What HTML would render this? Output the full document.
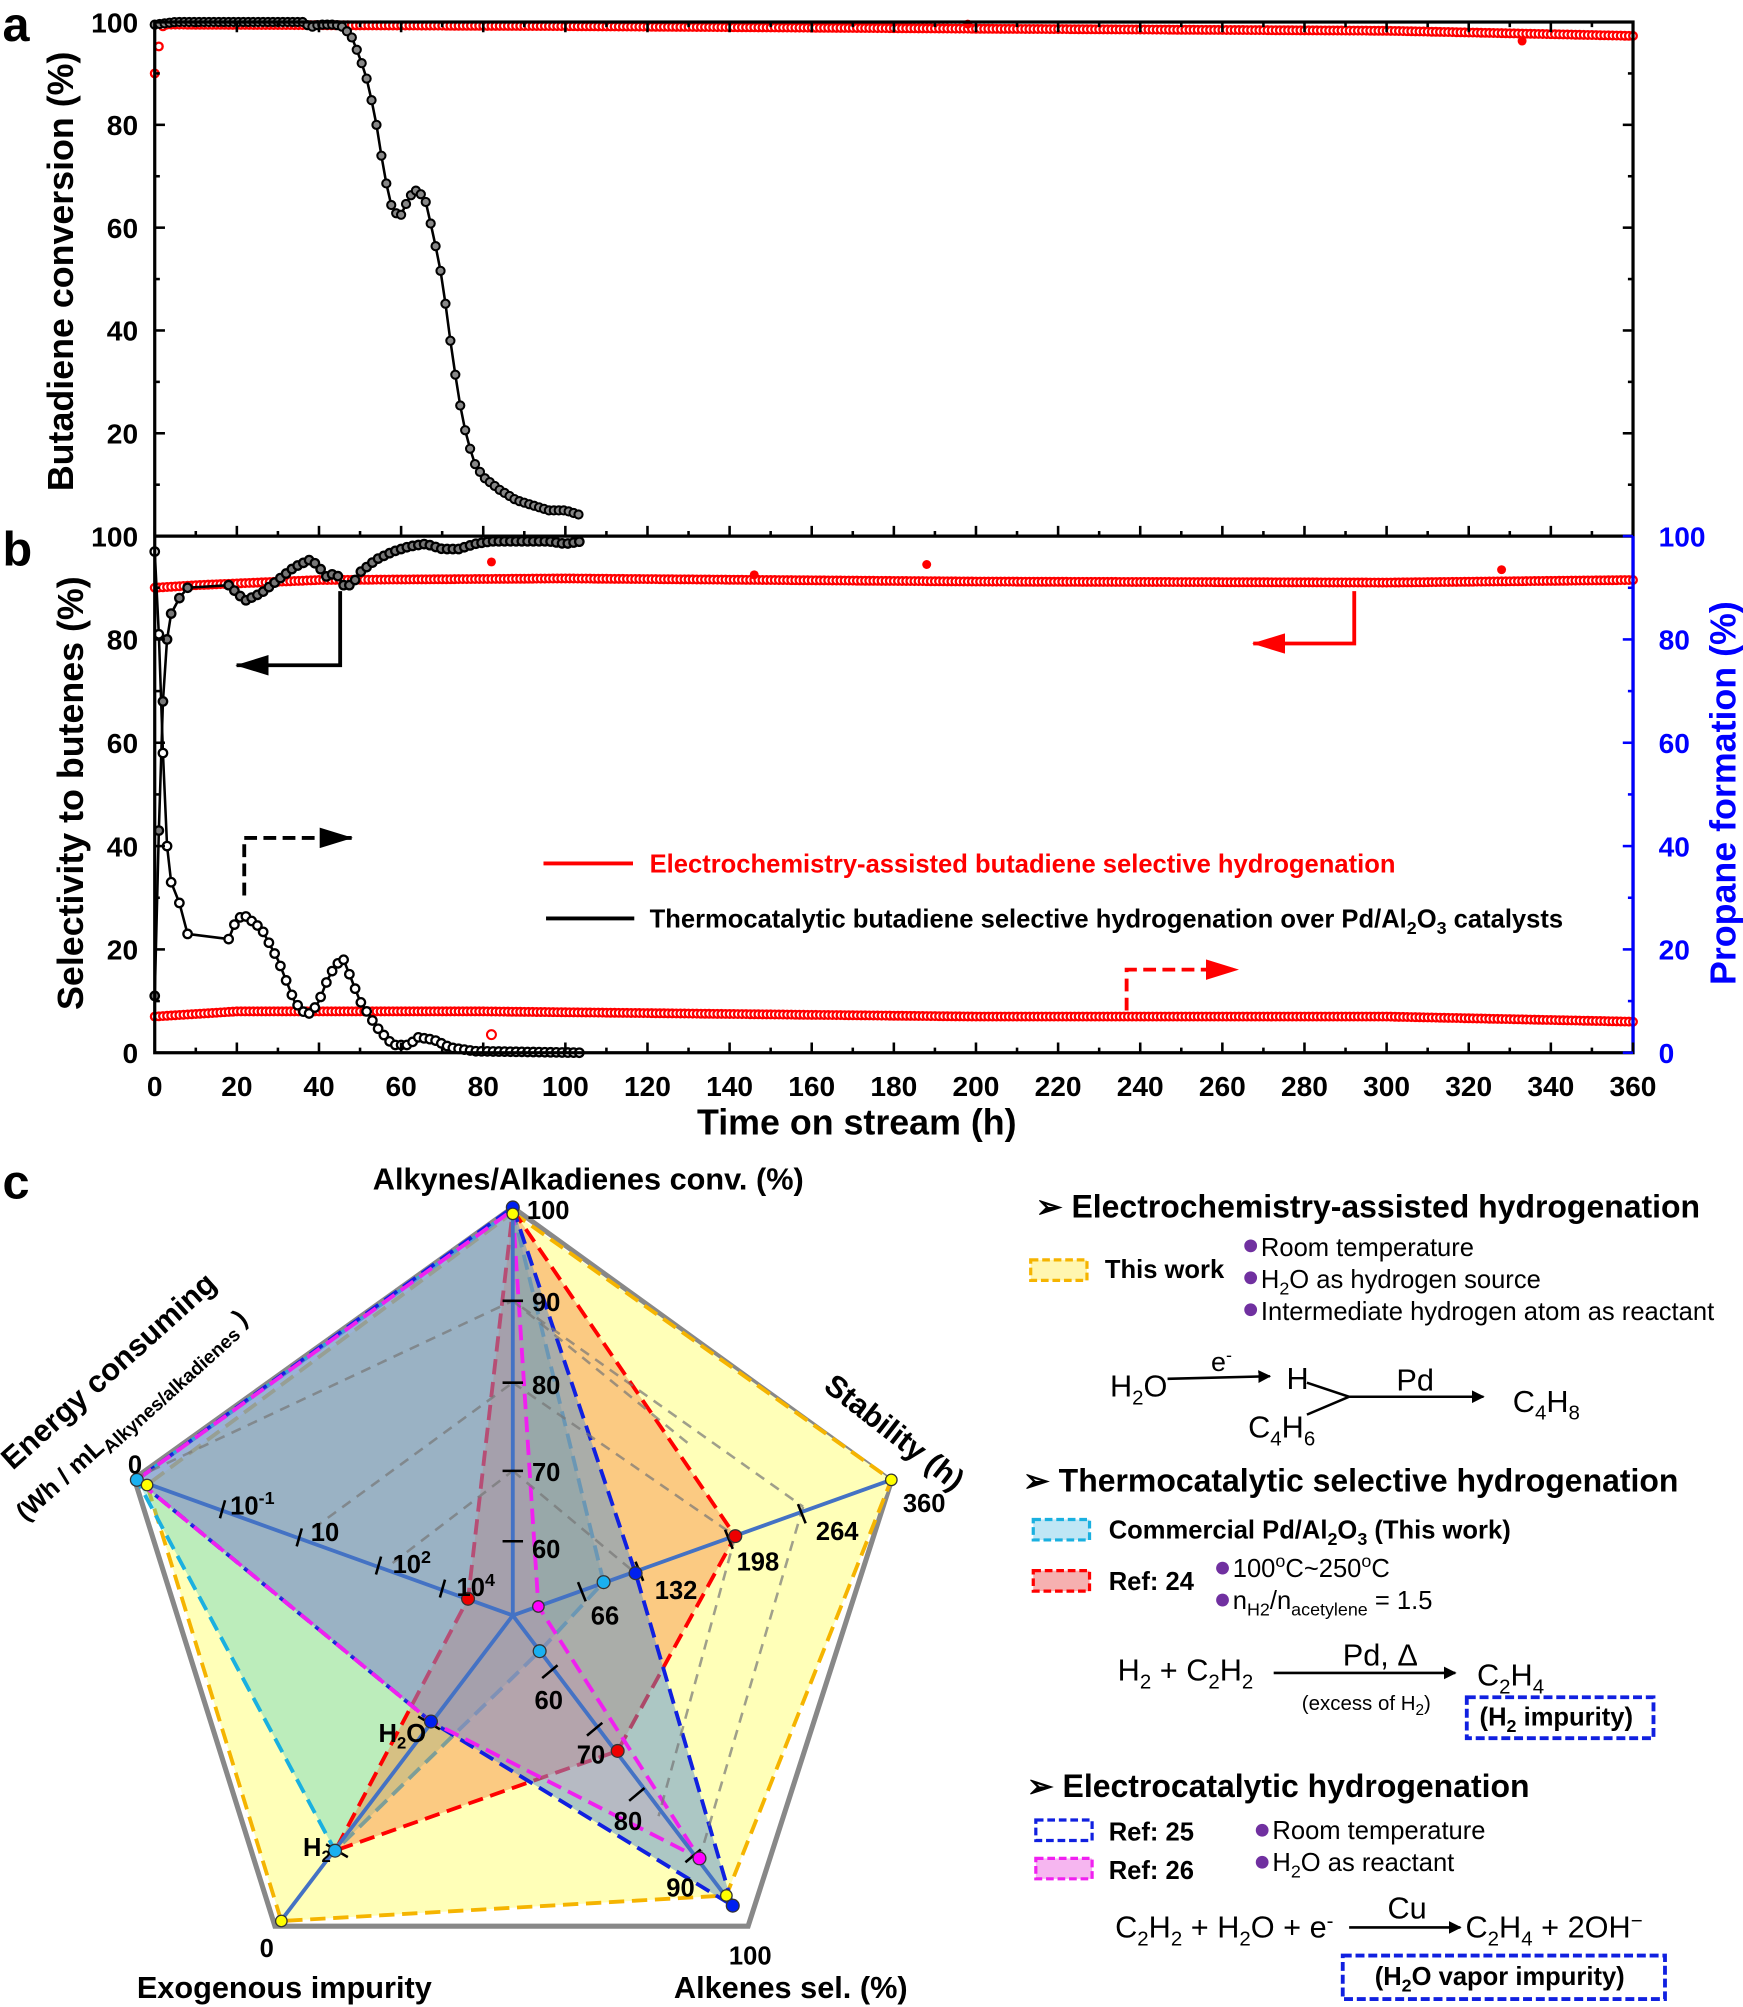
<!DOCTYPE html>
<html><head><meta charset="utf-8"><style>
html,body{margin:0;padding:0;background:#fff}
svg{display:block}
text{font-family:"Liberation Sans",Arial,sans-serif}
.b{font-weight:bold}
</style></head><body>
<svg id="s" width="1743" height="2007" viewBox="0 0 1363 1569" xmlns="http://www.w3.org/2000/svg">
<defs>
<marker id="ah" markerWidth="10" markerHeight="10" refX="9" refY="5" orient="auto" markerUnits="userSpaceOnUse"><path d="M0,0 L10,5 L0,10 Z" fill="#000"/></marker>
<marker id="ahk" markerWidth="26" markerHeight="16" refX="25" refY="8" orient="auto" markerUnits="userSpaceOnUse"><path d="M0,0 L26,8 L0,16 Z" fill="#000"/></marker>
<marker id="ahr" markerWidth="26" markerHeight="16" refX="25" refY="8" orient="auto" markerUnits="userSpaceOnUse"><path d="M0,0 L26,8 L0,16 Z" fill="#f00"/></marker>
</defs>
<g id="plots"></g>
<rect x="121" y="17" width="1156" height="806" fill="none" stroke="#000" stroke-width="2.5"/>
<line x1="121" y1="419" x2="1277" y2="419" stroke="#000" stroke-width="2.5"/>
<line x1="1277" y1="419" x2="1277" y2="823" stroke="#00f" stroke-width="2.5"/>
<g id="ticks"></g>
<text x="2" y="32" font-size="38" class="b">a</text>
<text x="2" y="442" font-size="38" class="b">b</text>
<text x="2" y="937" font-size="38" class="b">c</text>
<text transform="translate(57,212) rotate(-90)" text-anchor="middle" font-size="28" class="b">Butadiene conversion (%)</text>
<text transform="translate(65,620) rotate(-90)" text-anchor="middle" font-size="28" class="b">Selectivity to butenes (%)</text>
<text transform="translate(1357,620) rotate(-90)" text-anchor="middle" font-size="28" class="b" fill="#00f">Propane formation (%)</text>
<text x="670" y="887" text-anchor="middle" font-size="28" class="b">Time on stream (h)</text>
<polyline points="266,462 266,520 185,520" fill="none" stroke="#000" stroke-width="3" marker-end="url(#ahk)"/>
<polyline points="191,700 191,655 275,655" fill="none" stroke="#000" stroke-width="3" stroke-dasharray="10,5" marker-end="url(#ahk)"/>
<polyline points="1059,462 1059,503 980,503" fill="none" stroke="#f00" stroke-width="3" marker-end="url(#ahr)"/>
<polyline points="881,790 881,758 968,758" fill="none" stroke="#f00" stroke-width="3" stroke-dasharray="10,5" marker-end="url(#ahr)"/>
<line x1="425" y1="675" x2="495" y2="675" stroke="#f00" stroke-width="3"/>
<line x1="427" y1="718" x2="496" y2="718" stroke="#000" stroke-width="3"/>
<text x="508" y="682" font-size="20" class="b" fill="#f00">Electrochemistry-assisted butadiene selective hydrogenation</text>
<text x="508" y="725" font-size="20" class="b">Thermocatalytic butadiene selective hydrogenation over Pd/Al<tspan font-size="14" dy="5">2</tspan><tspan dy="-5">O</tspan><tspan font-size="14" dy="5">3</tspan><tspan dy="-5"> catalysts</tspan></text>

<g id="radar">
<polygon points="401,944 697,1158 585,1506 215,1506 105,1156" fill="none" stroke="#888" stroke-width="4"/>
<polygon points="401,948 697,1157 568,1482 220,1502 115,1161" fill="#ffffb8" stroke="#f5b400" stroke-width="3" stroke-dasharray="12,6"/>
<polygon points="401,946 472,1237 422,1291 262,1447 107,1157" fill="#50d0c0" fill-opacity="0.38" stroke="#1ab0e0" stroke-width="3" stroke-dasharray="12,6"/>
<polygon points="401,946 575,1201 483,1369 262,1447 366,1250" fill="#f78a40" fill-opacity="0.45" stroke="#f00" stroke-width="3" stroke-dasharray="12,6"/>
<polygon points="401,944 497,1230 573,1490 337,1346 107,1157" fill="#5a90d0" fill-opacity="0.5" stroke="#1020e0" stroke-width="3" stroke-dasharray="12,6"/>
<polygon points="401,946 421,1256 547,1453 337,1346 107,1157" fill="#f070c0" fill-opacity="0.15" stroke="#f020f0" stroke-width="3" stroke-dasharray="12,6"/>
<g stroke="#777" stroke-width="2" stroke-dasharray="8,6" fill="none" opacity="0.7">
<polyline points="105,1156 401,1017 628,1178"/>
<polyline points="401,1081 575,1201"/>
<polyline points="401,1150 497,1230"/>
<polyline points="628,1178 547,1453"/>
<polyline points="575,1201 515,1420"/>
<polyline points="401,1017 540,1130"/>
<polyline points="307,1222 401,1150"/>
<polyline points="245,1195 401,1081"/>
</g>
<g stroke="#4472c4" stroke-width="3">
<line x1="401" y1="1263" x2="401" y2="944"/>
<line x1="401" y1="1263" x2="697" y2="1157"/>
<line x1="401" y1="1263" x2="573" y2="1490"/>
<line x1="401" y1="1263" x2="218" y2="1504"/>
<line x1="401" y1="1263" x2="107" y2="1157"/>
</g>
<g stroke="#000" stroke-width="2">
<line x1="393" y1="1017" x2="409" y2="1017"/><line x1="393" y1="1081" x2="409" y2="1081"/><line x1="393" y1="1150" x2="409" y2="1150"/><line x1="393" y1="1205" x2="409" y2="1205"/>
<line x1="172" y1="1187" x2="176" y2="1173"/><line x1="232" y1="1209" x2="236" y2="1195"/><line x1="294" y1="1231" x2="298" y2="1217"/><line x1="344" y1="1249" x2="348" y2="1235"/>
<line x1="452" y1="1237" x2="458" y2="1252"/><line x1="497" y1="1221" x2="503" y2="1236"/><line x1="567" y1="1196" x2="573" y2="1211"/><line x1="624" y1="1176" x2="630" y2="1191"/>
<line x1="424" y1="1312" x2="436" y2="1302"/><line x1="459" y1="1357" x2="471" y2="1347"/><line x1="492" y1="1408" x2="504" y2="1398"/><line x1="536" y1="1456" x2="548" y2="1446"/>
<line x1="255" y1="1442" x2="272" y2="1452"/><line x1="327" y1="1342" x2="344" y2="1352"/>
</g>
<g stroke="#333" stroke-width="1">
<circle cx="401" cy="944" r="5" fill="#0020f0"/><circle cx="401" cy="949" r="4.5" fill="#ff0"/>
<circle cx="697" cy="1157" r="4.5" fill="#ff0"/><circle cx="575" cy="1201" r="5" fill="#e00"/><circle cx="497" cy="1230" r="5" fill="#0020f0"/><circle cx="472" cy="1237" r="5" fill="#1ab0f0"/><circle cx="421" cy="1256" r="4.5" fill="#f0f"/>
<circle cx="422" cy="1291" r="5" fill="#1ab0f0"/><circle cx="483" cy="1369" r="5" fill="#e00"/><circle cx="547" cy="1453" r="5" fill="#f0f"/><circle cx="568" cy="1482" r="4.5" fill="#ff0"/><circle cx="573" cy="1490" r="5" fill="#0020f0"/>
<circle cx="220" cy="1502" r="4.5" fill="#ff0"/><circle cx="262" cy="1447" r="5" fill="#1ab0f0"/><circle cx="337" cy="1346" r="5" fill="#0020f0"/>
<circle cx="107" cy="1157" r="5" fill="#1ab0f0"/><circle cx="115" cy="1161" r="4.5" fill="#ff0"/><circle cx="366" cy="1250" r="5" fill="#e00"/>
</g>
<g font-size="20" class="b">
<text x="412" y="953">100</text>
<text x="416" y="1025">90</text><text x="416" y="1090">80</text><text x="416" y="1158">70</text><text x="416" y="1218">60</text>
<text x="180" y="1184">10<tspan font-size="14" dy="-8">-1</tspan></text>
<text x="243" y="1205">10</text>
<text x="307" y="1230">10<tspan font-size="14" dy="-8">2</tspan></text>
<text x="357" y="1248">10<tspan font-size="14" dy="-8">4</tspan></text>
<text x="462" y="1270">66</text><text x="512" y="1250">132</text><text x="576" y="1228">198</text><text x="638" y="1204">264</text><text x="706" y="1182">360</text>
<text x="418" y="1336">60</text><text x="451" y="1379">70</text><text x="480" y="1431">80</text><text x="521" y="1483">90</text><text x="570" y="1536">100</text>
<text x="203" y="1530">0</text><text x="100" y="1152">0</text>
<text x="237" y="1451">H<tspan font-size="13" dy="5">2</tspan></text>
<text x="296" y="1362">H<tspan font-size="13" dy="5">2</tspan><tspan dy="-5">O</tspan></text>
</g>
<g font-size="24" class="b">
<text x="460" y="930" text-anchor="middle">Alkynes/Alkadienes conv. (%)</text>
<text x="107" y="1562">Exogenous impurity</text>
<text x="527" y="1562">Alkenes sel. (%)</text>
<text transform="translate(643,1086) rotate(38)">Stability (h)</text>
<text transform="translate(10,1150) rotate(-42)">Energy consuming</text>
<text transform="translate(20,1190) rotate(-42)" font-size="20">(Wh / mL<tspan font-size="15" dy="5">Alkynes/alkadienes</tspan><tspan dy="-5"> )</tspan></text>
</g>
</g>

<g font-size="20">
<text x="810" y="952" font-size="25" class="b">➢ Electrochemistry-assisted hydrogenation</text>
<rect x="806" y="985" width="44" height="16" fill="#fff6b0" stroke="#f5b400" stroke-width="2.5" stroke-dasharray="6,3"/>
<text x="864" y="999" class="b">This work</text>
<circle cx="978" cy="974" r="5" fill="#7030a0"/><text x="986" y="982">Room temperature</text>
<circle cx="978" cy="999" r="5" fill="#7030a0"/><text x="986" y="1007">H<tspan font-size="14" dy="5">2</tspan><tspan dy="-5">O as hydrogen source</tspan></text>
<circle cx="978" cy="1024" r="5" fill="#7030a0"/><text x="986" y="1032">Intermediate hydrogen atom as reactant</text>
<text x="868" y="1092" font-size="24">H<tspan font-size="16" dy="6">2</tspan><tspan dy="-6">O</tspan></text>
<line x1="913" y1="1078" x2="993" y2="1076" stroke="#000" stroke-width="2" marker-end="url(#ah)"/>
<text x="947" y="1072" font-size="21">e<tspan font-size="14" dy="-8">-</tspan></text>
<text x="1006" y="1086" font-size="24">H</text>
<polyline points="1022,1081 1055,1092 1022,1106" fill="none" stroke="#000" stroke-width="2"/>
<line x1="1055" y1="1092" x2="1160" y2="1092" stroke="#000" stroke-width="2" marker-end="url(#ah)"/>
<text x="1092" y="1087" font-size="24">Pd</text>
<text x="976" y="1124" font-size="24">C<tspan font-size="16" dy="6">4</tspan><tspan dy="-6">H</tspan><tspan font-size="16" dy="6">6</tspan></text>
<text x="1183" y="1104" font-size="24">C<tspan font-size="16" dy="6">4</tspan><tspan dy="-6">H</tspan><tspan font-size="16" dy="6">8</tspan></text>
<text x="800" y="1166" font-size="25" class="b">➢ Thermocatalytic selective hydrogenation</text>
<rect x="808" y="1188" width="44" height="16" fill="#bfe6f5" stroke="#1ab0e0" stroke-width="2.5" stroke-dasharray="6,3"/>
<text x="867" y="1203" class="b">Commercial Pd/Al<tspan font-size="14" dy="5">2</tspan><tspan dy="-5">O</tspan><tspan font-size="14" dy="5">3</tspan><tspan dy="-5"> (This work)</tspan></text>
<rect x="808" y="1228" width="44" height="16" fill="#f6b0b0" stroke="#f00" stroke-width="2.5" stroke-dasharray="6,3"/>
<text x="867" y="1243" class="b">Ref:  24</text>
<circle cx="956" cy="1226" r="5" fill="#7030a0"/><text x="964" y="1233">100<tspan font-size="14" dy="-8">o</tspan><tspan dy="8">C~250</tspan><tspan font-size="14" dy="-8">o</tspan><tspan dy="8">C</tspan></text>
<circle cx="956" cy="1251" r="5" fill="#7030a0"/><text x="964" y="1258">n<tspan font-size="14" dy="5">H2</tspan><tspan dy="-5">/n</tspan><tspan font-size="14" dy="5">acetylene</tspan><tspan dy="-5"> = 1.5</tspan></text>
<text x="874" y="1314" font-size="24">H<tspan font-size="16" dy="6">2</tspan><tspan dy="-6"> +  C</tspan><tspan font-size="16" dy="6">2</tspan><tspan dy="-6">H</tspan><tspan font-size="16" dy="6">2</tspan></text>
<line x1="996" y1="1308" x2="1138" y2="1308" stroke="#000" stroke-width="2" marker-end="url(#ah)"/>
<text x="1050" y="1302" font-size="24">Pd, Δ</text>
<text x="1018" y="1337" font-size="16">(excess of H<tspan font-size="12" dy="4">2</tspan><tspan dy="-4">)</tspan></text>
<text x="1155" y="1318" font-size="24">C<tspan font-size="16" dy="6">2</tspan><tspan dy="-6">H</tspan><tspan font-size="16" dy="6">4</tspan></text>
<rect x="1147" y="1327" width="146" height="32" fill="none" stroke="#1020e0" stroke-width="3" stroke-dasharray="7,3"/>
<text x="1157" y="1349" class="b">(H<tspan font-size="14" dy="5">2</tspan><tspan dy="-5"> impurity)</tspan></text>
<text x="803" y="1405" font-size="25" class="b">➢ Electrocatalytic hydrogenation</text>
<rect x="810" y="1423" width="44" height="16" fill="#fff" stroke="#1020e0" stroke-width="2.5" stroke-dasharray="6,3"/>
<text x="867" y="1439" class="b">Ref: 25</text>
<rect x="810" y="1453" width="44" height="16" fill="#f6b6f0" stroke="#f020f0" stroke-width="2.5" stroke-dasharray="6,3"/>
<text x="867" y="1469" class="b">Ref: 26</text>
<circle cx="987" cy="1431" r="5" fill="#7030a0"/><text x="995" y="1438">Room temperature</text>
<circle cx="987" cy="1456" r="5" fill="#7030a0"/><text x="995" y="1463">H<tspan font-size="14" dy="5">2</tspan><tspan dy="-5">O as reactant</tspan></text>
<text x="872" y="1515" font-size="24">C<tspan font-size="16" dy="6">2</tspan><tspan dy="-6">H</tspan><tspan font-size="16" dy="6">2</tspan><tspan dy="-6"> + H</tspan><tspan font-size="16" dy="6">2</tspan><tspan dy="-6">O + e</tspan><tspan font-size="16" dy="-8">-</tspan></text>
<line x1="1055" y1="1507" x2="1142" y2="1507" stroke="#000" stroke-width="2" marker-end="url(#ah)"/>
<text x="1085" y="1500" font-size="24">Cu</text>
<text x="1146" y="1515" font-size="24">C<tspan font-size="16" dy="6">2</tspan><tspan dy="-6">H</tspan><tspan font-size="16" dy="6">4</tspan><tspan dy="-6"> + 2OH</tspan><tspan font-size="16" dy="-8">−</tspan></text>
<rect x="1050" y="1529" width="252" height="34" fill="none" stroke="#1020e0" stroke-width="3" stroke-dasharray="7,3"/>
<text x="1075" y="1552" class="b">(H<tspan font-size="14" dy="5">2</tspan><tspan dy="-5">O vapor impurity)</tspan></text>
</g>
</svg>
<script>
(function(){
var NS="http://www.w3.org/2000/svg",g=document.getElementById('plots'),tk=document.getElementById('ticks');
function X(h){return 121+h*3.211}
function Ya(v){return 419-v*4.02}
function Yb(v){return 823-v*4.04}
function el(n,a,p){var e=document.createElementNS(NS,n);for(var k in a)e.setAttribute(k,a[k]);(p||g).appendChild(e);return e}
function interp(d,h){for(var i=1;i<d.length;i++){if(h<=d[i][0]){var a=d[i-1],b=d[i];return a[1]+(b[1]-a[1])*(h-a[0])/(b[0]-a[0]);}}return d[d.length-1][1]}
function series(d,Y,step,end,fill,stroke,r,line,sw){
 var pts=[];for(var h=d[0][0];h<=end+1e-6;h+=step){pts.push([X(h),Y(interp(d,h))])}
 if(line)el('polyline',{points:pts.map(function(p){return p.join(',')}).join(' '),fill:'none',stroke:stroke,'stroke-width':2});
 pts.forEach(function(p){el('circle',{cx:p[0],cy:p[1],r:r,fill:fill,stroke:stroke,'stroke-width':sw||1.4})});
}
var ra=[[0,90],[0.7,93],[1.5,99],[3,99.5],[100,99.2],[200,98.7],[300,98.3],[330,97.8],[360,97.3]];
series(ra,Ya,1.0,360,'#fff','#f00',3,false,1.8);
el('circle',{cx:X(198),cy:Ya(99.6),r:3.5,fill:'#f00'});el('circle',{cx:X(333),cy:Ya(96.3),r:3.5,fill:'#f00'});
var ka=[[0,99.5],[5,100],[36,100],[38,99],[40,99.5],[44,99.5],[46,99],[48,97],[50,93],[52,88],[54,80],[56,70],[58,63],[60,62.5],[62,66],[64,67.5],[66,65],[68,58],[70,50],[72,38],[74,27],[76,19],[78,14],[80,11.5],[84,9],[88,7],[92,6],[96,5],[100,5],[104,4]];
series(ka,Ya,1.2,104,'#888','#000',3.2,true,1.6);
var rs=[[0,90],[10,90.5],[40,91.5],[100,91.8],[200,91.2],[300,91],[360,91.5]];
series(rs,Yb,1.0,360,'#fff','#f00',3,false,1.8);
var rp=[[0,7],[20,8],[80,8],[200,7],[300,7],[360,6]];
series(rp,Yb,1.0,360,'#fff','#f00',3,false,1.8);
[[82,95],[146,92.5],[188,94.5],[328,93.5]].forEach(function(p){el('circle',{cx:X(p[0]),cy:Yb(p[1]),r:3.5,fill:'#f00'})});
el('circle',{cx:X(82),cy:Yb(3.5),r:3.5,fill:'#fff',stroke:'#f00','stroke-width':1.6});
var ks=[[0,11],[1,43],[2,68],[3,80],[4,85],[6,88],[8,90],[18,90.5],[20,89],[22,87.5],[26,89],[30,91.5],[34,94],[38,95.5],[40,94],[42,92],[44,93],[46,90.5],[48,90.5],[50,93],[54,95.5],[58,97],[62,98],[66,98.5],[70,97.5],[74,97.5],[78,98.5],[82,99],[88,99],[96,99],[100,98.5],[104,99]];
var kp=[[0,97],[1,81],[2,58],[3,40],[4,33],[6,29],[8,23],[18,22],[20,26],[22,26.5],[26,24],[30,18],[34,10],[36,8],[38,7.5],[40,10],[42,14],[44,17],[46,18],[48,14],[50,10],[54,5],[58,1.5],[62,1.5],[64,3],[68,2.5],[72,1],[78,0.3],[104,0]];
(function(){var pk=[];ks.forEach(function(p){pk.push(X(p[0])+','+Yb(p[1]))});el('polyline',{points:pk.join(' '),fill:'none',stroke:'#000','stroke-width':2});
var pp=[];kp.forEach(function(p){pp.push(X(p[0])+','+Yb(p[1]))});el('polyline',{points:pp.join(' '),fill:'none',stroke:'#000','stroke-width':2});})();
function dots(d,step,fill){var hs=[0,1,2,3,4,6,8];for(var h=18;h<=104;h+=step)hs.push(h);hs.forEach(function(h){el('circle',{cx:X(h),cy:Yb(interp(d,h)),r:3.3,fill:fill,stroke:'#000','stroke-width':1.8})})}
dots(ks,1.4,'#777');dots(kp,1.4,'#fff');
for(var h=0;h<=360;h+=10){var L=h%20==0?8:4;
 el('line',{x1:X(h),y1:823,x2:X(h),y2:823-L,stroke:'#000','stroke-width':2},tk);
 el('line',{x1:X(h),y1:419,x2:X(h),y2:419-L,stroke:'#000','stroke-width':2},tk);
 el('line',{x1:X(h),y1:17,x2:X(h),y2:17+L,stroke:'#000','stroke-width':2},tk);
 if(h%20==0){var t=el('text',{x:X(h),y:857,'text-anchor':'middle','font-size':22,'font-weight':'bold'},tk);t.textContent=h;}}
for(var v=0;v<=100;v+=10){var L=v%20==0?8:4;
 el('line',{x1:121,y1:Ya(v),x2:121+L,y2:Ya(v),stroke:'#000','stroke-width':2},tk);
 el('line',{x1:121,y1:Yb(v),x2:121+L,y2:Yb(v),stroke:'#000','stroke-width':2},tk);
 el('line',{x1:1277,y1:Yb(v),x2:1277-L,y2:Yb(v),stroke:'#00f','stroke-width':2},tk);
 el('line',{x1:1277,y1:Ya(v),x2:1277-L,y2:Ya(v),stroke:'#000','stroke-width':2},tk);
 if(v%20==0){
  if(v>0){var t=el('text',{x:108,y:Ya(v)+8,'text-anchor':'end','font-size':22,'font-weight':'bold'},tk);t.textContent=v;}
  var t2=el('text',{x:108,y:Yb(v)+8,'text-anchor':'end','font-size':22,'font-weight':'bold'},tk);t2.textContent=v;
  var t3=el('text',{x:1297,y:Yb(v)+8,'font-size':22,'font-weight':'bold',fill:'#00f'},tk);t3.textContent=v;}}
})();
</script>
</body></html>
